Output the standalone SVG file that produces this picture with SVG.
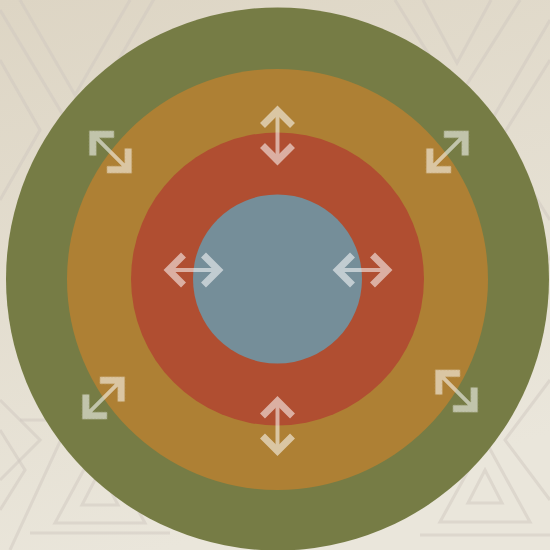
<svg xmlns="http://www.w3.org/2000/svg" xmlns:xlink="http://www.w3.org/1999/xlink" width="550" height="550" viewBox="0 0 550 550">
  <style>
    .pat { fill: none; stroke: #cfc8c0; stroke-width: 3; stroke-opacity: 0.5; stroke-linejoin: miter; }
    .arr { opacity: 0.55; }
    .shaft { stroke: #ffffff; stroke-width: 4; }
    .head { fill: none; stroke: #ffffff; stroke-width: 7; stroke-linecap: butt; stroke-linejoin: miter; stroke-miterlimit: 4; }
  </style>
  <defs>
    <linearGradient id="bg" x1="0" y1="0" x2="0.3" y2="1">
      <stop offset="0" stop-color="#ddd5c4"/>
      <stop offset="1" stop-color="#eae6db"/>
    </linearGradient>
    <g id="dbl">
      <line class="shaft" x1="0" y1="-26" x2="0" y2="26"/>
      <polyline class="head" points="-15,-10 0,-25 15,-10"/>
      <polyline class="head" points="-15,10 0,25 15,10"/>
    </g>
  </defs>
  <rect width="550" height="550" fill="url(#bg)"/>
  <g id="pattern">
    <polyline class="pat" points="20,0 75,95 130,0"/>
    <polyline class="pat" points="0,10 75,135 165,-20"/>
    <polyline class="pat" points="0,60 40,130 0,200"/>
    <polyline class="pat" points="423,0 457,63 491,0"/>
    <polyline class="pat" points="395,0 457,100 520,0"/>
    <polyline class="pat" points="550,60 500,140 550,220"/>
    <polyline class="pat" points="550,20 480,140 550,260"/>
    <polygon class="pat" points="485,470 502,503 468,503"/>
    <polygon class="pat" points="485,440 530,522 440,522"/>
    <polyline class="pat" points="420,535 550,535"/>
    <polygon class="pat" points="100,470 118,505 82,505"/>
    <polygon class="pat" points="100,440 145,523 55,523"/>
    <polyline class="pat" points="30,533 170,533"/>
    <polyline class="pat" points="0,400 40,440 0,480"/>
    <polyline class="pat" points="0,430 25,470 0,510"/>
    <polyline class="pat" points="10,550 70,420 20,420"/>
    <polyline class="pat" points="550,380 505,440 550,500"/>
  </g>
  <g id="ring-outer"><circle cx="277.5" cy="279" r="271.5" fill="#767c45"/></g>
  <g id="ring-2"><circle cx="277.5" cy="279.5" r="210.5" fill="#ae8034"/></g>
  <g id="ring-3"><circle cx="277.5" cy="279" r="146.5" fill="#b04e31"/></g>
  <g id="core"><circle cx="277.5" cy="279" r="84.5" fill="#758e99"/></g>
  <g id="arrows" class="arr">
    <use xlink:href="#dbl" transform="translate(277.5,135.5)"/>
    <use xlink:href="#dbl" transform="translate(277.5,426)"/>
    <use xlink:href="#dbl" transform="translate(193.5,270) rotate(90)"/>
    <use xlink:href="#dbl" transform="translate(362.5,270) rotate(90)"/>
    <use xlink:href="#dbl" transform="translate(110.5,152) rotate(-45)"/>
    <use xlink:href="#dbl" transform="translate(447.5,152) rotate(45)"/>
    <use xlink:href="#dbl" transform="translate(103.5,398) rotate(45)"/>
    <use xlink:href="#dbl" transform="translate(456.5,391) rotate(-45)"/>
  </g>
</svg>
